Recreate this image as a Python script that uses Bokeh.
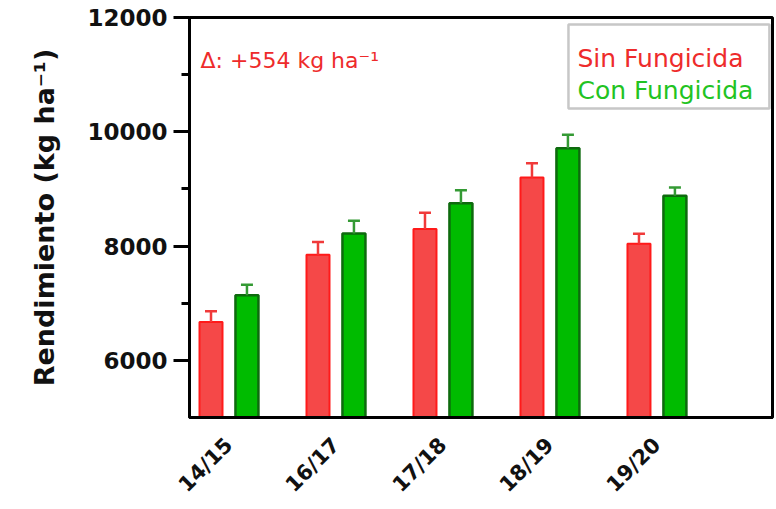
import math
import numpy as np
from bokeh.plotting import figure
from bokeh.models import (FixedTicker, Range1d, Whisker, ColumnDataSource, Label,
                          BoxAnnotation, TeeHead)
from bokeh.embed import file_html
from bokeh.resources import INLINE

# ---- data ----
seasons = ["14/15", "16/17", "17/18", "18/19", "19/20"]
sin_fung = [6670, 7850, 8300, 9200, 8040]
sin_err = [190, 220, 285, 250, 175]
con_fung = [7140, 8220, 8750, 9710, 8880]
con_err = [185, 225, 225, 240, 145]
y_ticks = [6000, 8000, 10000, 12000]
y_minor = [7000, 9000, 11000]
delta_text = "Δ: +554 kg ha⁻¹"
legend_labels = ["Sin Fungicida", "Con Fungicida"]
y_label = "Rendimiento (kg ha⁻¹)"

FONT = "DejaVu Sans"
RED_FILL, RED_LINE = "#F54848", "#FF1A1A"
GRN_FILL, GRN_LINE = "#00BB00", "#0E6A0E"
RED_TXT, GRN_TXT = "#EE2B2B", "#22C322"

Y0, Y1 = 5000, 12000
x = np.arange(len(seasons))
off = 0.168
w = 0.215

p = figure(width=776, height=509,
           x_range=Range1d(-0.369, 5.08), y_range=Range1d(Y0, Y1),
           output_backend="svg", toolbar_location=None,
           min_border_left=189, min_border_right=4,
           min_border_top=17, min_border_bottom=92)
p.grid.visible = False
p.outline_line_color = "black"
p.outline_line_width = 3
p.background_fill_color = "white"
p.border_fill_color = "white"

src_r = ColumnDataSource(dict(x=x - off, top=sin_fung,
                              upper=[v + e for v, e in zip(sin_fung, sin_err)]))
src_g = ColumnDataSource(dict(x=x + off, top=con_fung,
                              upper=[v + e for v, e in zip(con_fung, con_err)]))

for src, lc in ((src_r, "#F03A3A"), (src_g, "#349A34")):
    wk = Whisker(source=src, base="x", upper="upper", lower="top", dimension="height",
                 line_color=lc, line_width=2.5,
                 upper_head=TeeHead(size=12, line_color=lc, line_width=2.5),
                 lower_head=None, level="glyph")
    p.add_layout(wk)

p.vbar(x="x", top="top", bottom=0, width=w, source=src_r,
       fill_color=RED_FILL, line_color=RED_LINE, line_width=2)
p.vbar(x="x", top="top", bottom=0, width=w, source=src_g,
       fill_color=GRN_FILL, line_color=GRN_LINE, line_width=2.5)

# ---- axes ----
p.yaxis.ticker = FixedTicker(ticks=y_ticks, minor_ticks=y_minor)
p.yaxis.major_label_text_font = FONT
p.yaxis.major_label_text_font_style = "bold"
p.yaxis.major_label_text_font_size = "23px"
p.yaxis.major_label_text_color = "#111111"
p.yaxis.major_tick_out = 16
p.yaxis.major_tick_in = 0
p.yaxis.minor_tick_out = 8
p.yaxis.minor_tick_in = 0
p.yaxis.major_tick_line_width = 3
p.yaxis.minor_tick_line_width = 3
p.yaxis.major_label_standoff = 6
p.yaxis.axis_line_width = 3
p.yaxis.axis_label = y_label
p.yaxis.axis_label_text_font = FONT
p.yaxis.axis_label_text_font_style = "bold"
p.yaxis.axis_label_text_font_size = "27px"
p.yaxis.axis_label_text_color = "#111111"
p.yaxis.axis_label_standoff = 24

p.xaxis.ticker = FixedTicker(ticks=list(x))
p.xaxis.major_label_overrides = {int(i): s for i, s in zip(x, seasons)}
p.xaxis.major_label_orientation = math.pi / 4
p.xaxis.major_label_text_font = FONT
p.xaxis.major_label_text_font_style = "bold"
p.xaxis.major_label_text_font_size = "21px"
p.xaxis.major_label_text_color = "#111111"
p.xaxis.major_tick_out = 0
p.xaxis.major_tick_in = 0
p.xaxis.minor_tick_out = 0
p.xaxis.minor_tick_in = 0
p.xaxis.major_label_standoff = 24
p.xaxis.axis_line_width = 3

# ---- annotation ----
p.add_layout(Label(x=-0.266, y=11248, text=delta_text, text_color=RED_TXT,
                   text_font=FONT, text_font_size="22px", text_baseline="alphabetic"))

# ---- legend (coloured text in a box) ----
p.add_layout(BoxAnnotation(left=3.173, right=5.051, top=11877, bottom=10408,
                           fill_color="white", fill_alpha=1.0,
                           line_color="#444444", line_width=2.5, level="annotation"))
for txt, col, yb in ((legend_labels[0], RED_TXT, 11282), (legend_labels[1], GRN_TXT, 10723)):
    p.add_layout(Label(x=3.257, y=yb, text=txt, text_color=col, text_font=FONT,
                       text_font_size="25px", text_baseline="alphabetic"))

open("out.html", "w").write(file_html(p, INLINE))
